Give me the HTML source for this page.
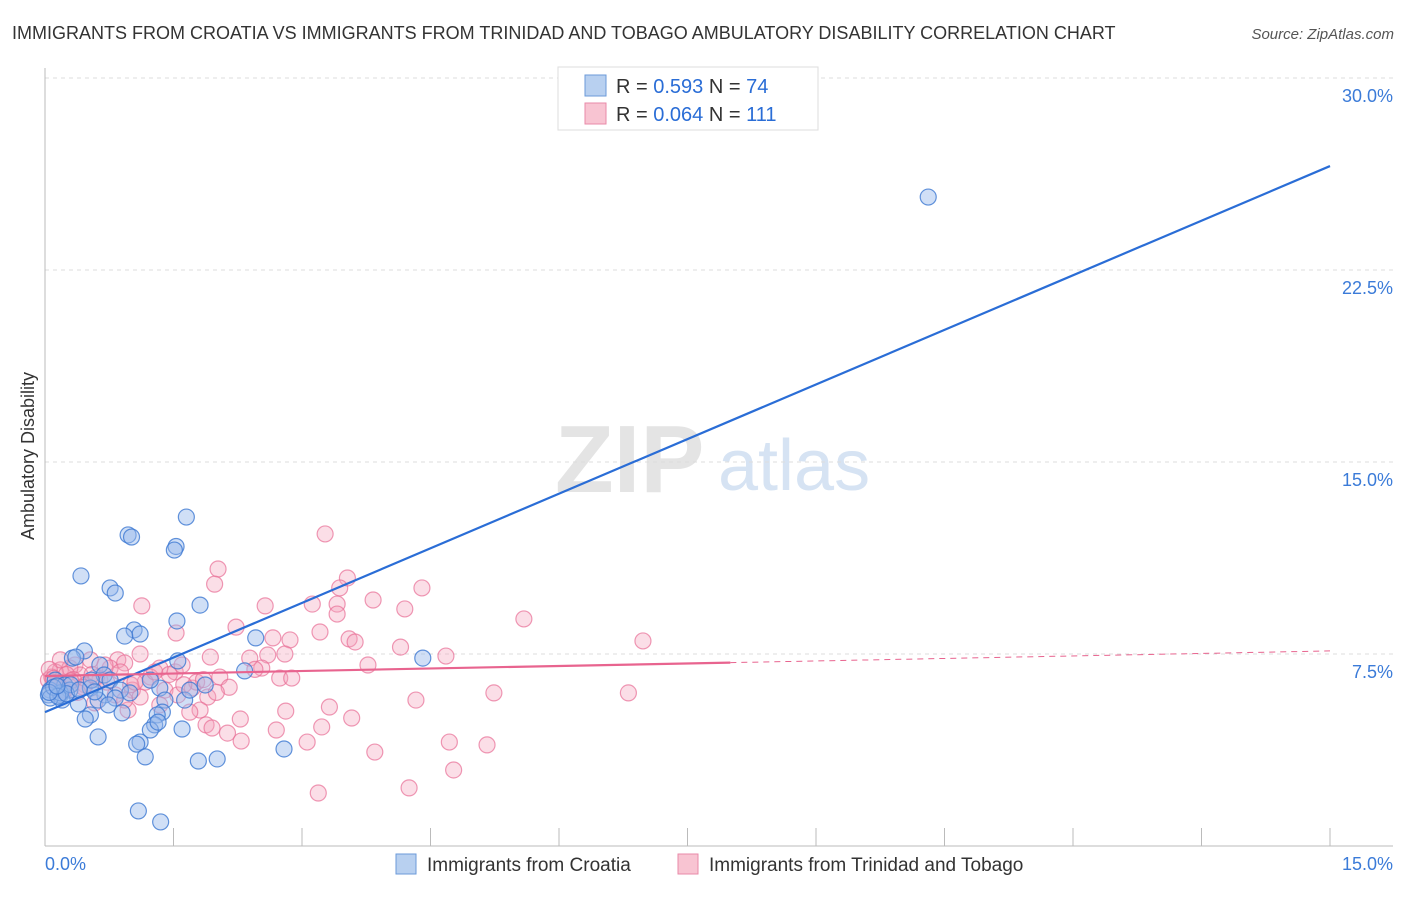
<!DOCTYPE html>
<html><head><meta charset="utf-8"><style>
body{margin:0;background:#fff;font-family:"Liberation Sans",sans-serif;}
svg text{font-family:"Liberation Sans",sans-serif;}
</style></head><body>
<svg id="chart" width="1406" height="892" viewBox="0 0 1406 892">
<text x="12" y="39" font-size="18" fill="#333">IMMIGRANTS FROM CROATIA VS IMMIGRANTS FROM TRINIDAD AND TOBAGO AMBULATORY DISABILITY CORRELATION CHART</text>
<text x="1394" y="39" font-size="15" fill="#555" font-style="italic" text-anchor="end">Source: ZipAtlas.com</text>
<text transform="translate(34,456) rotate(-90)" font-size="18" fill="#333" text-anchor="middle">Ambulatory Disability</text>
<g><text x="555" y="492" font-size="96" font-family="Liberation Serif" fill="#e4e4e4" font-weight="bold">ZIP</text><text x="718" y="490" font-size="72" fill="#d6e3f3">atlas</text></g>
<g id="grid"></g><g id="axes"></g><g id="pts"></g><g id="lines"></g>
<g>
<rect x="558" y="67" width="260" height="63" fill="#fff" stroke="#ddd"/>
<rect x="585" y="75" width="21" height="21" fill="#b8d0f0" stroke="#6b9ad9"/>
<rect x="585" y="103" width="21" height="21" fill="#f8c4d2" stroke="#e98aa8"/>
<text x="616" y="93" font-size="20" fill="#333">R = <tspan fill="#2a6dd6">0.593</tspan>   N = <tspan fill="#2a6dd6">74</tspan></text>
<text x="616" y="121" font-size="20" fill="#333">R = <tspan fill="#2a6dd6">0.064</tspan>   N = <tspan fill="#2a6dd6">111</tspan></text>
</g>
<g>
<rect x="396" y="854" width="20" height="20" fill="#b8d0f0" stroke="#6b9ad9"/>
<text x="427" y="871" font-size="19" fill="#333">Immigrants from Croatia</text>
<rect x="678" y="854" width="20" height="20" fill="#f8c4d2" stroke="#e98aa8"/>
<text x="709" y="871" font-size="19" fill="#333">Immigrants from Trinidad and Tobago</text>
</g>
</svg>
<script>
const xTicks=[0,1.5,3,4.5,6,7.5,9,10.5,12,13.5,15];
const yTicks=[7.5,15,22.5,30];
const yTickLabels=["7.5%","15.0%","22.5%","30.0%"];
const xEndLabels=["0.0%","15.0%"];
const blueX=[10.31,1.65,0.97,1.01,1.53,1.51,0.42,0.76,0.82,1.81,1.54,1.04,1.11,0.93,2.46,0.46,0.32,0.36,1.55,4.41,2.33,0.64,0.69,0.12,0.23,0.06,0.04,0.18,0.29,0.53,0.54,0.76,0.88,0.7,0.62,0.82,0.2,0.06,0.39,0.53,0.47,0.74,0.9,1.34,1.4,1.37,1.63,1.87,1.69,1.31,1.28,1.23,1.32,0.62,1.6,1.11,1.07,1.17,1.79,2.01,2.79,1.09,1.35,0.18,0.58,0.99,1.23,0.1,0.15,0.3,0.05,0.25,0.4,0.14];
const blueY=[25.35,12.85,12.15,12.07,11.7,11.56,10.55,10.08,9.88,9.41,8.79,8.44,8.28,8.2,8.13,7.62,7.34,7.38,7.23,7.34,6.84,7.07,6.68,6.48,6.29,6.09,5.9,5.9,6.09,6.17,6.48,6.48,6.09,5.9,5.7,5.78,5.7,5.78,5.55,5.12,4.96,5.51,5.2,6.17,5.7,5.23,5.7,6.29,6.09,5.12,4.73,4.53,4.84,4.26,4.57,4.06,3.98,3.48,3.32,3.4,3.79,1.37,0.94,5.98,6.02,5.98,6.48,6.2,5.85,6.3,6.0,5.95,6.1,6.25];
const pinkX=[3.27,2.02,1.98,3.53,3.44,4.4,1.13,2.57,3.12,3.83,4.2,3.41,3.41,5.59,2.23,1.53,2.66,2.86,3.21,3.55,3.62,4.15,6.98,4.68,3.77,1.93,2.39,2.6,2.8,1.11,0.85,0.93,0.18,0.35,0.53,1.34,1.52,1.6,1.23,2.53,2.74,2.88,2.04,1.72,1.77,1.02,1.11,5.24,6.81,4.33,1.9,1.81,2.81,2.28,3.32,3.58,3.23,1.88,1.95,2.13,2.7,2.29,3.06,4.72,5.16,3.85,4.77,4.25,3.19,0.97,0.82,0.64,0.41,0.29,0.12,0.04,0.23,0.47,0.76,1.17,1.4,0.58,0.93,0.18,0.7,1.69,1.34,1.55,0.08,0.15,0.25,0.33,0.45,0.6,0.72,0.88,1.0,1.45,1.85,2.15,2.45,0.05,0.2,0.38,0.55,1.05,1.28,1.62,0.1,0.3,2.0];
const pinkY=[12.19,10.82,10.23,10.47,10.08,10.08,9.38,9.38,9.45,9.61,9.26,9.45,9.06,8.87,8.55,8.32,8.13,8.05,8.36,8.09,7.97,7.77,8.01,7.42,7.07,7.38,7.34,7.46,7.5,7.5,7.27,7.15,6.88,7.07,7.27,6.95,6.8,7.07,6.6,6.95,6.56,6.56,6.6,6.17,6.4,6.09,5.82,5.98,5.98,5.7,5.82,5.31,5.27,4.96,5.43,5.0,4.65,4.73,4.61,4.41,4.53,4.1,4.06,4.06,3.95,3.67,2.97,2.27,2.07,5.31,5.9,6.48,6.68,6.95,6.8,6.48,6.09,6.29,6.95,6.4,6.09,5.59,5.7,7.27,7.07,5.23,5.51,5.9,6.6,6.3,6.7,6.5,6.2,6.6,6.4,6.8,6.3,6.7,6.5,6.2,6.9,6.9,6.1,6.0,6.7,6.4,6.8,6.3,6.55,6.45,6.0];
const blueLine=[5.23,26.56];
const pinkLine=[6.64,7.62];
const NS="http://www.w3.org/2000/svg";
const X0=45,X1=1330,Y0=846,PPY=25.6;
function xs(v){return X0+(X1-X0)*v/15;}
function ys(v){return Y0-v*PPY;}
function mk(tag,attrs,parent){const e=document.createElementNS(NS,tag);for(const k in attrs)e.setAttribute(k,attrs[k]);document.getElementById(parent).appendChild(e);return e;}
// grid
yTicks.forEach((t,i)=>{
 const g=mk('line',{x1:X0,x2:1393,y1:ys(t),y2:ys(t),stroke:'#ddd','stroke-dasharray':'4,4'},'grid');
 
 
 const l=mk('text',{x:1393,y:ys(t)+24,'font-size':18,fill:'#3b7bd8','text-anchor':'end'},'grid');
 l.textContent=yTickLabels[i];
 
 
});
const topG=mk('line',{x1:X0,x2:1393,y1:78,y2:78,stroke:'#ddd','stroke-dasharray':'4,4'},'grid');


const ya=mk('line',{x1:X0,x2:X0,y1:68,y2:Y0,stroke:'#bbb'},'axes');


const xa=mk('line',{x1:X0,x2:1393,y1:Y0,y2:Y0,stroke:'#bbb'},'axes');


xTicks.forEach(t=>{
 const tk=mk('line',{x1:xs(t),x2:xs(t),y1:828,y2:Y0,stroke:'#bbb'},'axes');
 
 
});
[[0,'start'],[15,'end']].forEach((p,i)=>{
 const l=mk('text',{x:i?1393:45,y:870,'font-size':18,fill:'#3b7bd8','text-anchor':p[1]},'axes');
 l.textContent=xEndLabels[i];
 
 
});
pinkX.forEach((v,i)=>{
 const c=mk('circle',{cx:xs(v),cy:ys(pinkY[i]),r:8,fill:'rgba(244,160,185,0.35)',stroke:'rgba(232,110,150,0.7)','stroke-width':1.2},'pts');
 
 
});
blueX.forEach((v,i)=>{
 const c=mk('circle',{cx:xs(v),cy:ys(blueY[i]),r:8,fill:'rgba(150,185,235,0.45)',stroke:'rgba(60,120,210,0.8)','stroke-width':1.2},'pts');
 
 
});
const bl=mk('line',{x1:xs(0),y1:ys(blueLine[0]),x2:xs(15),y2:ys(blueLine[1]),stroke:'#2a6dd6','stroke-width':2.2},'lines');


const pm=8.0, pmy=pinkLine[0]+(pinkLine[1]-pinkLine[0])*pm/15;
const pl=mk('line',{x1:xs(0),y1:ys(pinkLine[0]),x2:xs(pm),y2:ys(pmy),stroke:'#e8648f','stroke-width':2.2},'lines');


const pd=mk('line',{x1:xs(pm),y1:ys(pmy),x2:xs(15),y2:ys(pinkLine[1]),stroke:'#e8648f','stroke-width':1,'stroke-dasharray':'6,5'},'lines');


</script>
</body></html>
